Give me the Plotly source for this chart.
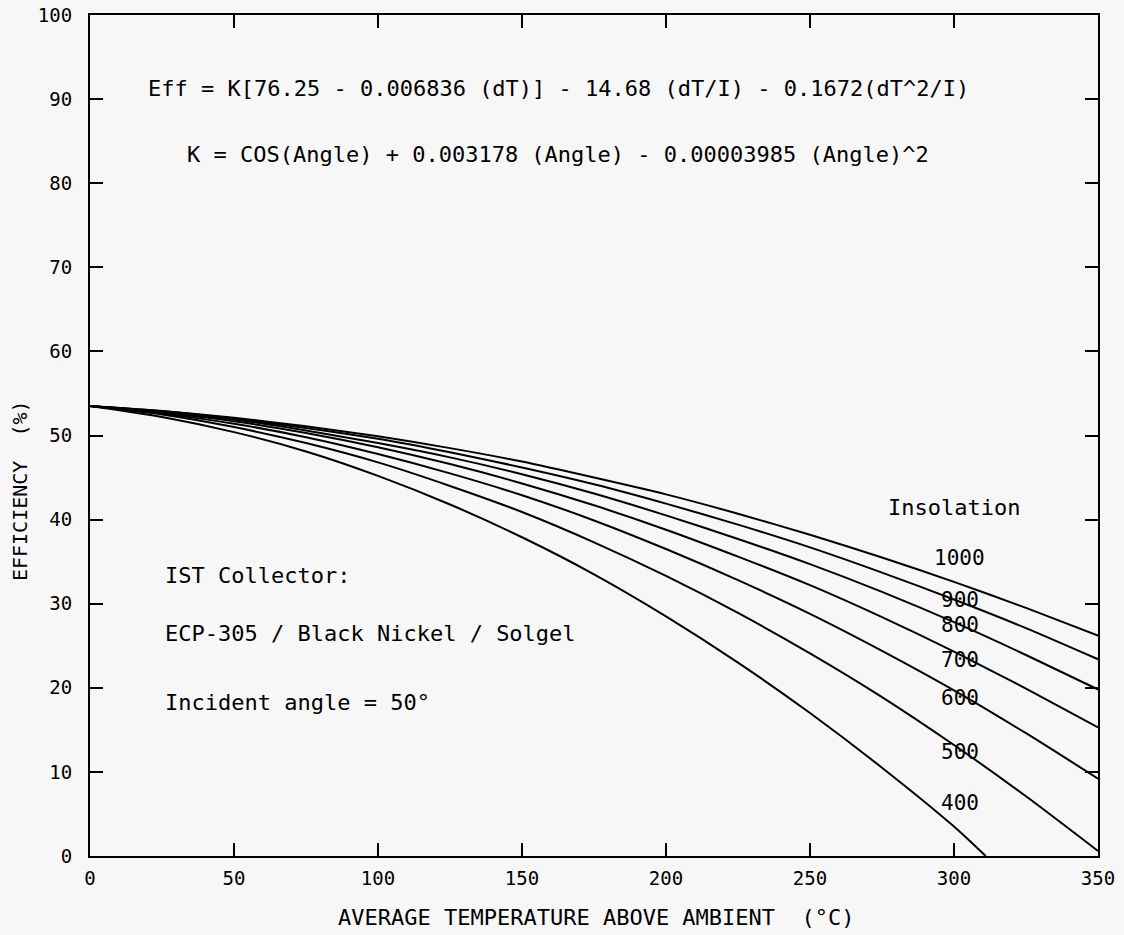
import plotly.graph_objects as go

# Temperature above ambient (°C)
dT = [0, 25, 50, 75, 100, 125, 150, 175, 200, 225, 250, 275, 300, 325, 350]
dT_400 = [0, 25, 50, 75, 100, 125, 150, 175, 200, 225, 250, 275, 300, 311]

# Efficiency (%), per insolation level
eff_1000 = [53.5, 52.9, 52.1, 51.1, 49.9, 48.5, 46.9, 45.0, 43.0, 40.7, 38.2, 35.5, 32.6, 29.5, 26.2]
eff_900 = [53.5, 52.9, 52.0, 50.9, 49.6, 48.0, 46.2, 44.2, 41.9, 39.4, 36.7, 33.7, 30.5, 27.1, 23.4]
eff_800 = [53.5, 52.8, 51.9, 50.6, 49.1, 47.4, 45.4, 43.1, 40.5, 37.7, 34.7, 31.4, 27.8, 23.9, 19.8]
eff_700 = [53.5, 52.7, 51.7, 50.3, 48.6, 46.6, 44.3, 41.7, 38.8, 35.6, 32.2, 28.4, 24.3, 19.9, 15.3]
eff_600 = [53.5, 52.6, 51.4, 49.8, 47.8, 45.5, 42.9, 39.9, 36.5, 32.8, 28.8, 24.4, 19.7, 14.6, 9.2]
eff_500 = [53.5, 52.5, 51.0, 49.1, 46.8, 44.0, 40.9, 37.3, 33.3, 28.9, 24.1, 18.9, 13.2, 7.1, 0.6]
eff_400 = [53.5, 52.2, 50.4, 48.1, 45.2, 41.8, 37.9, 33.5, 28.5, 23.0, 17.0, 10.5, 3.5, 0.0]

insolation_labels = ["1000", "900", "800", "700", "600", "500", "400"]
label_y = [35.4, 30.4, 27.5, 23.3, 18.8, 12.4, 6.3]

x_ticks = [0, 50, 100, 150, 200, 250, 300, 350]
y_ticks = [0, 10, 20, 30, 40, 50, 60, 70, 80, 90, 100]

FONT = "DejaVu Sans Mono"
INK = "#000000"
BG = "#f7f7f7"

fig = go.Figure()
series = [
    (dT, eff_1000), (dT, eff_900), (dT, eff_800), (dT, eff_700),
    (dT, eff_600), (dT, eff_500), (dT_400, eff_400),
]
for name, (xs, ys) in zip(insolation_labels, series):
    fig.add_trace(go.Scatter(
        x=xs, y=ys, mode="lines", name=name,
        line=dict(color=INK, width=2, shape="spline", smoothing=0.6),
        showlegend=False, hoverinfo="skip", cliponaxis=True,
    ))

ann = []
for lab, yy in zip(insolation_labels, label_y):
    ann.append(dict(x=302, y=yy, xref="x", yref="y", text=lab, showarrow=False,
                    xanchor="center", yanchor="middle",
                    font=dict(family=FONT, size=21, color=INK)))

ann.append(dict(x=300, y=41.4, xref="x", yref="y", text="Insolation", showarrow=False,
                xanchor="center", yanchor="middle", font=dict(family=FONT, size=22, color=INK)))
ann.append(dict(x=162.5, y=91.3, xref="x", yref="y",
                text="Eff = K[76.25 - 0.006836 (dT)] - 14.68 (dT/I) - 0.1672(dT^2/I)",
                showarrow=False, xanchor="center", yanchor="middle",
                font=dict(family=FONT, size=22, color=INK)))
ann.append(dict(x=162.5, y=83.4, xref="x", yref="y",
                text="K = COS(Angle) + 0.003178 (Angle) - 0.00003985 (Angle)^2",
                showarrow=False, xanchor="center", yanchor="middle",
                font=dict(family=FONT, size=22, color=INK)))
for txt, yy in [("IST Collector:", 33.4),
                ("ECP-305 / Black Nickel / Solgel", 26.5),
                ("Incident angle = 50°", 18.3)]:
    ann.append(dict(x=25.5, y=yy, xref="x", yref="y", text=txt, showarrow=False,
                    xanchor="left", yanchor="middle",
                    font=dict(family=FONT, size=22, color=INK)))
ann.append(dict(x=0.502, y=-0.0737, xref="paper", yref="paper",
                text="AVERAGE TEMPERATURE ABOVE AMBIENT  (°C)", showarrow=False,
                xanchor="center", yanchor="middle",
                font=dict(family=FONT, size=22, color=INK)))
ann.append(dict(x=-0.0694, y=0.434, xref="paper", yref="paper",
                text="EFFICIENCY  (%)", showarrow=False, textangle=-90,
                xanchor="center", yanchor="middle",
                font=dict(family=FONT, size=20, color=INK)))

fig.update_layout(
    width=1124, height=935,
    margin=dict(l=90, r=26, t=15, b=79, autoexpand=False),
    paper_bgcolor=BG, plot_bgcolor=BG,
    annotations=ann,
    xaxis=dict(range=[0, 350], tickvals=x_ticks, ticktext=[str(v) for v in x_ticks],
               showgrid=False, zeroline=False, showline=True, linecolor=INK, linewidth=2,
               mirror="ticks", ticks="inside", ticklen=13, tickwidth=2, tickcolor=INK,
               ticklabelstandoff=4, automargin=False, ticklabeloverflow="allow",
               tickfont=dict(family=FONT, size=19, color=INK)),
    yaxis=dict(range=[0, 100], tickvals=y_ticks, ticktext=[str(v) for v in y_ticks],
               showgrid=False, zeroline=False, showline=True, linecolor=INK, linewidth=2,
               mirror="ticks", ticks="inside", ticklen=13, tickwidth=2, tickcolor=INK,
               ticklabelstandoff=12, automargin=False, ticklabeloverflow="allow",
               tickfont=dict(family=FONT, size=19, color=INK)),
)

# Remove the default page margin so the figure fills the 1124x935 window.
fig.write_html(
    "out.html",
    config={"displayModeBar": False},
    post_script="document.body.style.margin='0';document.body.style.background='#f7f7f7';",
)
